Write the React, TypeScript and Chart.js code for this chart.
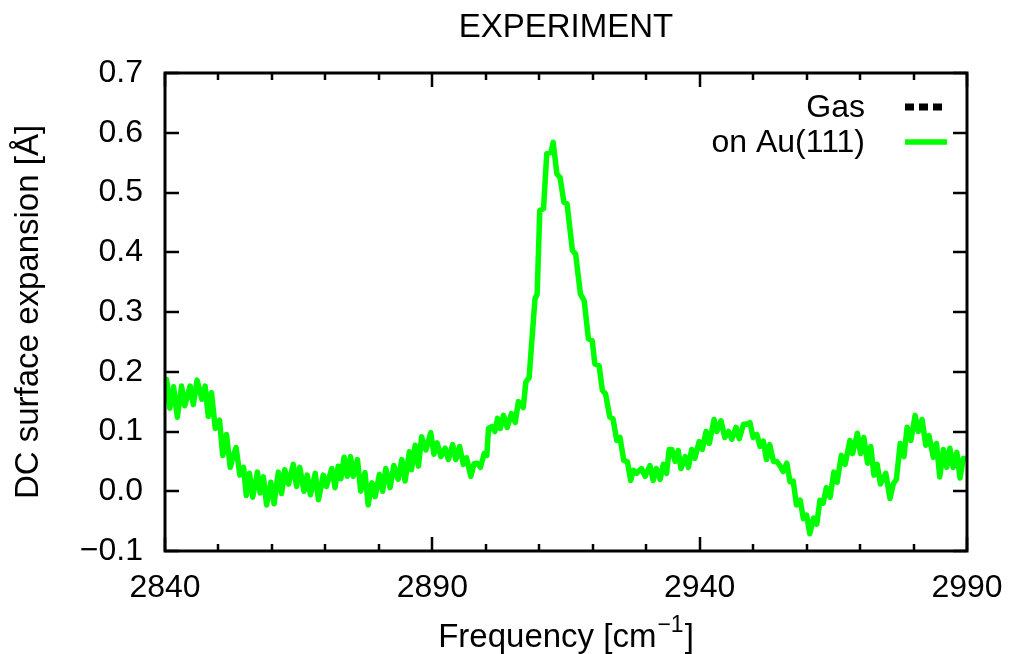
import React, { useEffect, useRef } from "react";
import { Chart, registerables } from "chart.js";

Chart.register(...registerables);

// ---- data ----
const freq: number[] = [
  2840.0, 2840.3, 2840.9, 2841.6, 2842.3, 2843.1, 2843.7, 2844.7, 2845.3, 2846.0,
  2846.9, 2847.5, 2848.1, 2848.7, 2849.4, 2850.2, 2850.8, 2851.5, 2852.2, 2852.8,
  2853.3, 2854.0, 2854.7, 2855.2, 2855.8, 2856.4, 2857.3, 2857.8, 2858.4, 2859.0,
  2859.8, 2860.4, 2861.2, 2861.8, 2862.4, 2863.1, 2864.0, 2864.6, 2865.2, 2866.0,
  2866.6, 2867.2, 2868.1, 2868.7, 2869.6, 2870.2, 2871.2, 2871.8, 2872.4, 2872.9,
  2873.5, 2874.1, 2874.7, 2875.2, 2876.0, 2876.6, 2877.4, 2878.0, 2878.7, 2879.3,
  2880.1, 2880.7, 2881.3, 2882.1, 2882.8, 2883.6, 2884.3, 2884.9, 2885.7, 2886.1,
  2886.8, 2887.4, 2888.0, 2888.8, 2889.7, 2890.3, 2890.9, 2891.6, 2892.4, 2893.0,
  2893.8, 2894.4, 2895.1, 2895.8, 2896.4, 2897.2, 2897.8, 2898.4, 2899.0, 2899.7,
  2900.2, 2900.5, 2901.1, 2901.7, 2902.2, 2902.7, 2903.3, 2904.0, 2904.8, 2905.5,
  2906.1, 2907.0, 2907.5, 2908.1, 2909.2, 2909.6, 2910.1, 2910.8, 2911.4, 2912.2,
  2912.6, 2913.3, 2913.9, 2914.6, 2915.2, 2916.2, 2916.8, 2917.7, 2918.4, 2919.2,
  2919.9, 2920.4, 2921.2, 2921.8, 2922.4, 2923.2, 2923.8, 2924.5, 2925.1, 2925.8,
  2926.5, 2927.1, 2927.6, 2928.2, 2929.1, 2929.8, 2930.7, 2931.3, 2931.9, 2932.6,
  2933.2, 2933.8, 2934.3, 2934.8, 2935.4, 2936.0, 2936.5, 2937.3, 2937.9, 2938.5,
  2939.1, 2939.9, 2940.5, 2941.2, 2941.8, 2942.7, 2943.2, 2944.0, 2944.7, 2945.4,
  2946.0, 2946.8, 2947.4, 2948.2, 2948.8, 2949.4, 2950.0, 2950.7, 2951.3, 2951.9,
  2952.5, 2953.1, 2953.8, 2954.4, 2955.0, 2955.6, 2956.3, 2956.9, 2957.5, 2958.1,
  2958.8, 2959.4, 2960.0, 2960.6, 2961.3, 2961.9, 2962.5, 2963.1, 2963.7, 2964.4,
  2965.1, 2965.7, 2966.5, 2967.2, 2968.1, 2968.6, 2969.5, 2970.1, 2970.7, 2971.4,
  2972.0, 2972.6, 2973.2, 2973.8, 2974.8, 2975.6, 2976.2, 2976.8, 2977.5, 2978.2,
  2978.8, 2979.5, 2980.3, 2980.9, 2981.6, 2982.3, 2982.9, 2983.7, 2984.3, 2984.9,
  2985.6, 2986.2, 2986.8, 2987.4, 2988.1, 2988.7, 2989.3, 2989.9,
];

const onAu111: number[] = [
  0.172, 0.187, 0.139, 0.175, 0.124, 0.176, 0.143, 0.176, 0.145, 0.186,
  0.154, 0.176, 0.125, 0.165, 0.105, 0.119, 0.06, 0.095, 0.04, 0.06,
  0.073, 0.027, 0.04, -0.007, 0.03, -0.01, 0.032, -0.003, 0.024, -0.023,
  0.015, -0.021, 0.032, -0.004, 0.036, 0.012, 0.045, 0.008, 0.04, 0.0,
  0.027, -0.006, 0.03, -0.014, 0.027, 0.008, 0.038, 0.006, 0.042, 0.021,
  0.057, 0.025, 0.058, 0.025, 0.053, 0.0, 0.031, -0.023, 0.014, -0.009,
  0.028, 0.0, 0.038, 0.006, 0.043, 0.02, 0.053, 0.017, 0.066, 0.036,
  0.077, 0.042, 0.091, 0.069, 0.098, 0.062, 0.081, 0.058, 0.072, 0.053,
  0.078, 0.053, 0.075, 0.045, 0.056, 0.025, 0.046, 0.047, 0.04, 0.063,
  0.06, 0.105, 0.108, 0.1, 0.122, 0.105, 0.127, 0.107, 0.13, 0.115,
  0.15, 0.14, 0.183, 0.19, 0.322, 0.33, 0.47, 0.473, 0.565, 0.567,
  0.584, 0.531, 0.525, 0.484, 0.481, 0.403, 0.397, 0.33, 0.319, 0.255,
  0.252, 0.213, 0.21, 0.169, 0.163, 0.124, 0.121, 0.085, 0.09, 0.052,
  0.049, 0.018, 0.035, 0.03, 0.038, 0.025, 0.043, 0.018, 0.038, 0.02,
  0.045, 0.03, 0.07, 0.07, 0.05, 0.068, 0.038, 0.058, 0.04, 0.07,
  0.055, 0.083, 0.07, 0.1, 0.08, 0.12, 0.1, 0.118, 0.09, 0.1,
  0.087, 0.107, 0.088, 0.112, 0.112, 0.115, 0.09, 0.095, 0.075, 0.084,
  0.053, 0.078, 0.05, 0.05, 0.043, 0.033, 0.047, 0.016, 0.017, -0.023,
  -0.015, -0.046, -0.04, -0.071, -0.045, -0.055, -0.015, -0.02, 0.006, -0.01,
  0.032, 0.015, 0.06, 0.045, 0.085, 0.063, 0.097, 0.063, 0.09, 0.047,
  0.075, 0.027, 0.045, 0.012, 0.03, -0.012, 0.012, 0.02, 0.08, 0.058,
  0.107, 0.085, 0.127, 0.1, 0.12, 0.077, 0.093, 0.057, 0.08, 0.024,
  0.07, 0.04, 0.072, 0.04, 0.065, 0.022, 0.055, 0.055,
];

const gasFreq: number[] = [];
const gasValues: number[] = [];

const seriesLabels = ["Gas", "on Au(111)"];
const chartTitle = "EXPERIMENT";
const yTitle = "DC surface expansion [Å]";
const xTitleMain = "Frequency [cm";
const xTitleSup = "\u22121";
const xTitleEnd = "]";

const X_MIN = 2840;
const X_MAX = 2990;
const X_MAJOR = 50;
const X_MINOR = 10;
const Y_MIN = -0.1;
const Y_MAX = 0.7;
const Y_STEP = 0.1;

const FONT = "'Liberation Sans', Arial, Helvetica, sans-serif";

const overlayPlugin = {
  id: "gnuplotOverlay",
  afterDraw(chart: any) {
    const { ctx, chartArea: a, scales } = chart;
    const xs = scales.x;
    const ys = scales.y;
    ctx.save();
    ctx.strokeStyle = "#000";
    ctx.lineCap = "butt";

    // tick marks (inward, mirrored)
    ctx.lineWidth = 2.5;
    ctx.beginPath();
    for (let v = X_MIN; v <= X_MAX + 1e-9; v += X_MINOR) {
      const px = Math.round(xs.getPixelForValue(v));
      const major = Math.abs((v - X_MIN) % X_MAJOR) < 1e-6;
      const len = major ? 14 : 7;
      ctx.moveTo(px, a.bottom);
      ctx.lineTo(px, a.bottom - len);
      ctx.moveTo(px, a.top);
      ctx.lineTo(px, a.top + len);
    }
    ys.ticks.forEach((t: any) => {
      const py = Math.round(ys.getPixelForValue(t.value));
      ctx.moveTo(a.left, py);
      ctx.lineTo(a.left + 14, py);
      ctx.moveTo(a.right, py);
      ctx.lineTo(a.right - 14, py);
    });
    ctx.stroke();

    // frame
    ctx.lineWidth = 3;
    ctx.strokeRect(a.left, a.top, a.right - a.left, a.bottom - a.top);

    // title
    const cx = (a.left + a.right) / 2;
    ctx.fillStyle = "#000";
    ctx.font = `33px ${FONT}`;
    ctx.textAlign = "center";
    ctx.textBaseline = "middle";
    ctx.fillText(chartTitle, cx, 28);

    // x axis title with superscript
    ctx.textBaseline = "alphabetic";
    ctx.textAlign = "left";
    ctx.font = `33px ${FONT}`;
    const w1 = ctx.measureText(xTitleMain).width;
    const w3 = ctx.measureText(xTitleEnd).width;
    ctx.font = `23px ${FONT}`;
    const w2 = ctx.measureText(xTitleSup).width;
    const total = w1 + w2 + w3 + 2;
    let sx = cx - total / 2;
    const base = 647;
    ctx.font = `33px ${FONT}`;
    ctx.fillText(xTitleMain, sx, base);
    sx += w1 + 1;
    ctx.font = `23px ${FONT}`;
    ctx.fillText(xTitleSup, sx, base - 15);
    sx += w2 + 1;
    ctx.font = `33px ${FONT}`;
    ctx.fillText(xTitleEnd, sx, base);

    // legend
    ctx.font = `32px ${FONT}`;
    ctx.textAlign = "right";
    ctx.textBaseline = "middle";
    chart.data.datasets.forEach((ds: any, i: number) => {
      const ly = a.top + 34 + i * 35;
      ctx.fillStyle = "#000";
      ctx.fillText(ds.label, a.right - 102, ly + 1);
      ctx.save();
      ctx.strokeStyle = ds.borderColor;
      ctx.lineWidth = ds.legendWidth || ds.borderWidth;
      ctx.setLineDash(ds.borderDash || []);
      ctx.beginPath();
      ctx.moveTo(a.right - 62, ly);
      ctx.lineTo(a.right - 20, ly);
      ctx.stroke();
      ctx.restore();
    });
    ctx.restore();
  },
};

export default function App() {
  const canvasRef = useRef<HTMLCanvasElement | null>(null);

  useEffect(() => {
    if (!canvasRef.current) return;
    Chart.defaults.font.family = FONT;
    Chart.defaults.color = "#000";
    const chart = new Chart(canvasRef.current, {
      type: "line",
      data: {
        datasets: [
          {
            label: seriesLabels[0],
            data: gasFreq.map((f, i) => ({ x: f, y: gasValues[i] })),
            borderColor: "#000000",
            borderWidth: 6,
            borderDash: [9, 5],
            legendWidth: 7,
            pointRadius: 0,
          } as any,
          {
            label: seriesLabels[1],
            data: freq.map((f, i) => ({ x: f, y: onAu111[i] })),
            borderColor: "#00ff00",
            borderWidth: 5.5,
            borderJoinStyle: "round",
            pointRadius: 0,
            tension: 0,
          } as any,
        ],
      },
      options: {
        animation: false,
        responsive: false,
        devicePixelRatio: 1,
        layout: { padding: { top: 73, right: 43, bottom: 0, left: 0 } },
        plugins: {
          legend: { display: false },
          title: { display: false },
          tooltip: { enabled: false },
        },
        scales: {
          x: {
            type: "linear",
            min: X_MIN,
            max: X_MAX,
            grid: { display: false, drawTicks: false },
            border: { display: false },
            ticks: {
              stepSize: X_MAJOR,
              padding: 18,
              font: { size: 32 },
              maxRotation: 0,
              callback: (v: any) => String(v),
            },
            afterFit: (s: any) => {
              s.height = 103;
              s.paddingLeft = 0;
              s.paddingRight = 0;
            },
          },
          y: {
            type: "linear",
            min: Y_MIN,
            max: Y_MAX,
            grid: { display: false, drawTicks: false },
            border: { display: false },
            ticks: {
              stepSize: Y_STEP,
              padding: 22,
              font: { size: 32 },
              callback: (v: any) => {
                const n = Number(v);
                const s = Math.abs(n).toFixed(1);
                return n < -1e-9 ? "\u2212" + s : s;
              },
            },
            title: {
              display: true,
              text: yTitle,
              font: { size: 33 },
              padding: { top: 9, bottom: 0 },
            },
            afterFit: (s: any) => {
              s.width = 165;
              s.paddingTop = 0;
              s.paddingBottom = 0;
            },
          },
        },
      },
      plugins: [overlayPlugin],
    });
    return () => chart.destroy();
  }, []);

  return (
    <div
      style={{
        position: "fixed",
        left: 0,
        top: 0,
        width: 1010,
        height: 654,
        background: "#ffffff",
      }}
    >
      <canvas
        ref={canvasRef}
        width={1010}
        height={654}
        style={{ display: "block", width: 1010, height: 654 }}
      />
    </div>
  );
}
